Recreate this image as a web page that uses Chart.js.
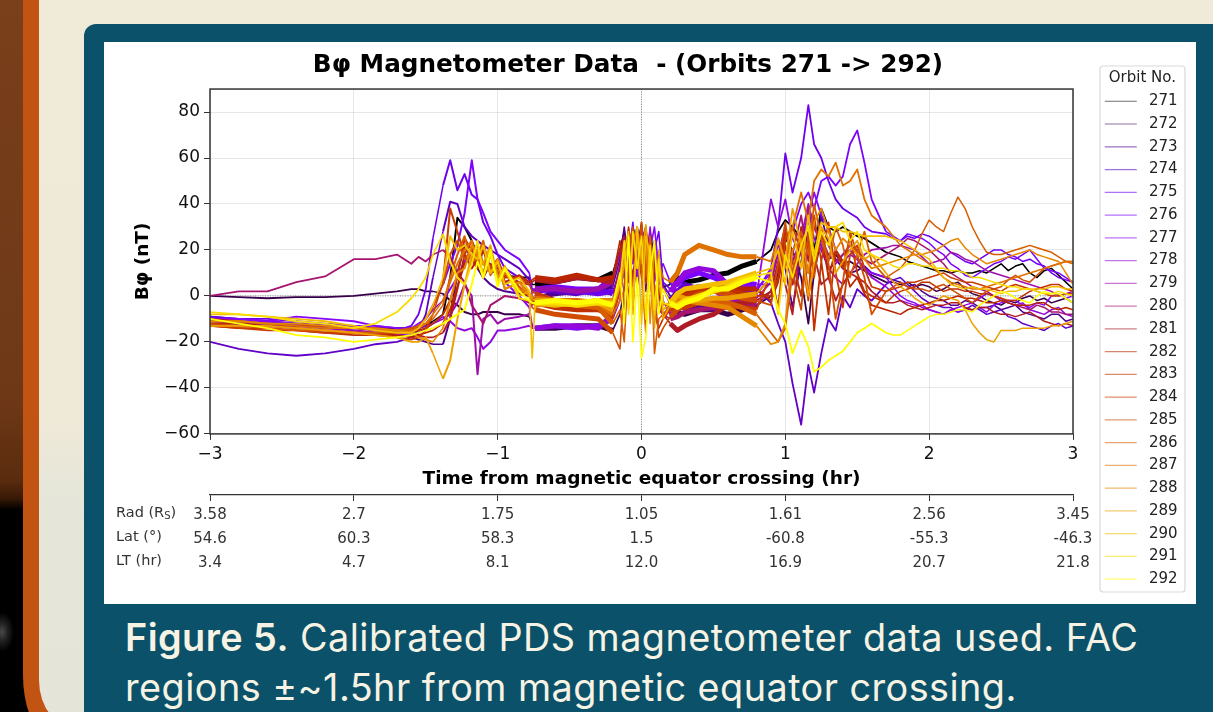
<!DOCTYPE html>
<html>
<head>
<meta charset="utf-8">
<title>Magnetometer Data</title>
<script src="https://cdn.jsdelivr.net/npm/chart.js@4"></script>
<style>
  html, body { margin: 0; padding: 0; width: 1213px; height: 712px; overflow: hidden; background: #000; }
  .photo { position: absolute; left: 0; top: 0; width: 30px; height: 712px;
    background: radial-gradient(ellipse 12px 20px at 2px 632px, #4a4a4a 0%, rgba(60,60,60,0.5) 50%, rgba(0,0,0,0) 100%),
      linear-gradient(#7a3f1b 0, #6e3817 400px, #5a2c0e 480px, #3a1a06 498px, #000 510px, #000 712px); }
  .edge { position: absolute; left: 23px; top: -60px; width: 1250px; height: 790px; background: #c25413; border-bottom-left-radius: 22px 55px; }
  .panel { position: absolute; left: 39px; top: -60px; width: 1250px; height: 790px; border-bottom-left-radius: 40px 50px;
    background: linear-gradient(#f0ead9 0, #efe9d8 480px, #e5e6d9 560px, #e4e5d8 850px); }
  .slide { position: absolute; left: 84px; top: 24px; width: 1129px; height: 688px; background: #0a5169; border-top-left-radius: 12px; }
  #plot { position: absolute; left: 104px; top: 42px; background: #fff; }
  .row { position: absolute; left: 116px; font: 14.5px "DejaVu Sans", sans-serif; color: #333; line-height: 18px; white-space: nowrap; }
  .row sub { font-size: 10px; line-height: 0; vertical-align: -2px; }
  .caption { position: absolute; left: 125px; top: 612px; font: 37.8px Inter, sans-serif; letter-spacing: 0.45px; line-height: 50px; color: #f6f3e4; white-space: nowrap; }
  .caption b { font-weight: 600; }
</style>
</head>
<body>
<div class="photo"></div>
<div class="edge"></div>
<div class="panel"></div>
<div class="slide"></div>
<canvas id="plot" width="1092" height="562"></canvas>
<div class="row" style="top:503px">Rad (R<sub>S</sub>)</div>
<div class="row" style="top:527px">Lat (°)</div>
<div class="row" style="top:551px">LT (hr)</div>
<div class="caption"><b>Figure 5.</b> Calibrated PDS magnetometer data used. FAC<br>regions ±~1.5hr from magnetic equator crossing.</div>

<script>
// hours from equator crossing, shared by all orbits (finer where the traces are busy)
const timeHr = [
  -3, -2.8, -2.6, -2.4, -2.2, -2, -1.85, -1.7,
  -1.6, -1.55, -1.5, -1.45, -1.38, -1.33, -1.28, -1.23, -1.18, -1.14, -1.1, -1.05, -1, -0.95, -0.85, -0.78,
  -0.76, -0.74, -0.6, -0.45, -0.3, -0.2, -0.15, -0.12, -0.09, -0.06, -0.03, 0, 0.03, 0.06, 0.09, 0.12, 0.15, 0.2, 0.25, 0.3, 0.4, 0.5, 0.6, 0.7, 0.8,
  0.9, 0.95, 1, 1.05, 1.11, 1.16, 1.2, 1.25, 1.3, 1.35, 1.4, 1.45, 1.5, 1.55, 1.6, 1.7,
  1.75, 1.8, 1.85, 1.9, 1.95, 2, 2.05, 2.1, 2.15, 2.2, 2.25, 2.3, 2.35, 2.4, 2.45, 2.5, 2.55, 2.6, 2.65, 2.7, 2.75, 2.8, 2.85, 2.9, 2.95, 3
];

const orbit271 = [
  -11, -11, -12, -12, -13, -13, -14, -14,
  -14, -14, -13, -11, -8, 8, 34, 30, 24, 18, 14, 11, 10, 9, 8, 8,
  5, 5, 6, 8, 7, 10, 20, 28, 18, 30, 22, 31, 14, 28, 16, 8, 4, 5, 8, 6, 7, 9, 10, 13, 15,
  20, 28, 33, 30, 25, 34, 20, 38, 30, 28, 30, 28, 26, 25, 23, 19,
  18, 17, 15, 14, 13, 12, 11, 11, 10, 11, 10, 10, 11, 10, 12, 14, 11, 13, 14, 10, 8, 11, 12, 9, 6, 3
];
const orbit272 = [
  0, -0.5, -1, -0.5, -0.5, 0, 1, 2,
  3, 3, 2, 2, 1, -2, -4, -7, -8, -8, -7, -7, -7, -8, -8, -9,
  -13, -14, -14, -13, -13, -15, -8, 4, 18, 8, 20, 10, 24, 6, 15, 2, -3, -5, -7, -8, -6, -6, -8, -6, -4,
  0, 10, 25, 20, 8, -12, 10, 25, 16, 18, 14, 15, 13, 11, 9, 6,
  6, 5, 6, 4, 5, 4, 2, 3, 5, 6, 3, 1, 0, -2, -3, -4, -2, -3, -1, 0, -2, -1, -3, -2, -1, -3
];
const orbit273 = [
  -9, -10, -11, -12, -13, -14, -15, -16,
  -18, -19, -20, -21, -21, -10, 10, 22, 16, 12, 8, 5, 3, 2, 1, 0,
  -1, -1, 1, 2, 3, 4, 16, 30, 14, 26, 12, 28, 10, 22, 8, 16, 5, 0, -4, -5, -5, -6, -3, -1, 1,
  8, 20, 12, -5, 15, 28, 10, 35, 22, 16, 12, 10, 11, 13, 10, 8,
  7, 6, 4, 5, 2, 0, -1, -2, -4, -4, -2, -3, -5, -5, -4, -6, -5, -4, -7, -8, -9, -10, -8, -8, -11, -10
];
const orbit274 = [
  -20, -23, -25, -26, -25, -23, -21, -20,
  -18, -15, -8, 8, 28, 41, 40, 30, 26, 24, 22, 20, 18, 16, 12, 7,
  2, 3, 2, 1, 3, 1, 12, 20, 8, 22, 4, 18, 2, 16, 24, 6, 3, -2, 2, 5, 3, 4, 5, 2, 3,
  -3, -12, -20, -38, -56, -30, -42, -25, -10, -15, 0, -5, 3, 0, -2, 5,
  7, 8, 5, 2, -1, -3, -4, -5, -5, -7, -6, -4, -6, -8, -7, -6, -9, -10, -12, -13, -14, -15, -13, -12, -14, -13
];
const orbit275 = [
  -9, -10, -10, -11, -12, -13, -14, -15,
  -13, -8, 3, 25, 48, 59, 46, 53, 44, 42, 32, 26, 18, 12, 8, 5,
  3, 2, 3, 2, 1, 2, 10, 26, 16, 32, 8, 24, 30, 10, 20, 28, 6, 3, 2, 3, 4, 3, 2, 1, 2,
  12, 30, 62, 45, 60, 83, 66, 60, 50, 42, 38, 36, 34, 30, 28, 27,
  25, 24, 26, 25, 27, 26, 24, 22, 19, 17, 15, 14, 16, 18, 20, 20, 18, 17, 15, 16, 14, 13, 10, 8, 7, 6
];
const orbit276 = [
  -10, -10, -11, -12, -13, -13, -13, -14,
  -15, -14, -10, -4, 5, 14, 22, 36, 59, 42, 36, 28, 24, 20, 16, 10,
  3, 3, 4, 3, 3, 8, 18, 8, 28, 14, 30, 20, 26, 12, 18, 10, 14, 6, 5, 8, 10, 8, 5, 6, 5,
  5, 20, 15, 28, 40, 45, 38, 50, 52, 48, 52, 66, 72, 58, 42, 28,
  26, 24, 27, 26, 25, 23, 20, 18, 14, 12, 9, 8, 10, 12, 14, 15, 17, 16, 18, 20, 16, 12, 11, 10, 8, 6
];
const orbit277 = [
  -10, -10, -11, -9, -10, -11, -13, -14,
  -14, -12, -10, -6, -2, 3, 8, 15, 18, 20, 14, 12, 10, 6, 0, -5,
  -13, -14, -13, -14, -13, -10, -2, 14, 24, 6, 18, 26, 8, 20, 30, 12, -2, -8, -6, -3, 1, 4, 3, 4, 3,
  10, 22, 18, 5, 20, 35, 45, 35, 30, 20, 15, 18, 16, 12, 10, 8,
  4, 0, -2, -3, -5, -6, -7, -8, -6, -7, -6, -6, -5, -7, -4, -3, -2, -2, -4, -5, -3, -4, 0, 1, -1, 0
];
const orbit278 = [
  -11, -12, -12, -13, -14, -15, -16, -17,
  -17, -16, -14, -12, -9, -11, -14, -15, -14, -18, -23, -20, -15, -15, -14, -13,
  -14, -14, -13, -13, -14, -8, 5, -6, 15, 22, 8, 25, 12, 30, 6, 18, 2, 2, 6, 10, 12, 11, 5, 1, 0,
  42, 30, 42, 25, 18, 38, 25, 20, 12, 14, 18, 20, 16, 12, 8, 4,
  1, -2, -3, -4, -4, -6, -7, -8, -6, -5, -4, -3, -1, 1, 0, -2, -3, -4, -3, -6, -7, -8, -6, -5, -8, -9
];
const orbit279 = [
  -12, -12, -13, -13, -14, -15, -16, -15,
  -15, -14, -13, -12, -10, -8, -3, 5, 0, -34, -10, -8, -12, -10, -9, -8,
  2, 3, 3, 2, 3, 6, 20, 10, 25, 15, 28, 12, 26, 8, 20, -2, 4, -4, -3, 1, 2, 3, -2, -3, -1,
  6, 18, 30, 15, 25, 40, 30, 22, 12, 8, 5, 10, 14, 18, 20, 21,
  22, 22, 21, 20, 17, 14, 15, 16, 19, 18, 16, 15, 13, 11, 10, 9, 8, 7, 6, 5, 4, 3, 2, 0, 1, 2
];
const orbit280 = [
  0, 2, 2, 6, 8.5, 16, 16, 18,
  14, 17, 15, 18, 20, 17, 10, 6, -4, -8, -12, -4, -2, 0, -1, -3,
  -4, -3, -3, -4, -3, -2, 14, 24, 6, 20, 28, 10, 22, 14, 5, -6, -8, -10, -9, -7, -6, -5, -5, -4, -4,
  2, 12, 28, 18, 35, 15, 30, 25, 18, 15, 18, 22, 20, 16, 14, 18,
  20, 22, 25, 24, 22, 20, 17, 14, 10, 8, 6, 4, 3, 2, 0, -1, -3, -4, -5, -6, -4, -5, -7, -7, -8, -8
];
const orbit281 = [
  -10, -11, -12, -13, -13, -14, -14, -15,
  -16, -17, -18, -18, -16, -10, 3, 18, 12, 16, 8, 14, 12, 9, 6, 5,
  6, 7, 6, 8, 7, 6, 20, 26, 18, 8, 24, 28, 14, 26, 12, 2, -8, -12, -15, -13, -10, -8, -4, -3, -2,
  2, 15, 5, -8, 25, 10, 18, 5, 8, -2, 5, 10, 8, 6, 2, -3,
  -3, -2, -4, -5, -6, -5, -4, -4, -3, -3, -5, -6, -5, -5, -7, -8, -8, -9, -8, -7, -9, -11, -12, -13, -12, -13
];
const orbit282 = [
  -12, -12, -13, -14, -15, -16, -17, -17,
  -18, -17, -16, -15, -12, -6, 4, 14, 18, 12, 20, 10, 16, 6, 9, 6,
  7, 8, 7, 9, 7, 8, 24, 12, 30, 16, 26, 8, 28, 10, 18, -4, -6, -3, 1, 2, 3, 3, 4, 3, 3,
  -2, 6, 22, 5, 30, 0, 14, 28, 8, 20, 15, 4, 8, 1, -4, -6,
  -7, -8, -6, -5, -4, -3, -2, -2, -1, 0, -1, -1, -2, -3, -3, -2, -3, -4, -4, -4, -3, -3, -5, -6, -5, -6
];
const orbit283 = [
  -13, -14, -14, -15, -16, -17, -17, -16,
  -16, -15, -14, -12, -8, -2, 8, 25, 20, 15, 10, 18, 8, 12, 2, 0,
  -2, -3, -5, -6, -6, -8, 4, 20, -2, 26, 12, 32, 6, 20, -8, -14, -10, -6, -2, 0, 2, 4, 3, 1, 0,
  0, 8, 28, 15, 0, 25, -15, 15, -8, 20, 12, 26, 10, 2, 0, -3,
  0, 2, 3, 4, 6, 6, 4, 2, 3, 3, 2, 2, 1, 1, 0, -1, -2, -2, 0, 2, 3, 4, 5, 5, 3, 2
];
const orbit284 = [
  -13, -14, -15, -15, -16, -16, -17, -18,
  -19, -18, -15, -8, 6, 38, 28, 18, 24, 16, 22, 12, 16, 8, 8, 5,
  2, 1, -2, -3, -4, -10, 2, 18, 26, 4, 28, 14, 30, 12, 20, -4, -8, -6, -5, -5, -3, -2, -4, -5, -6,
  10, -5, 25, 30, 20, -2, 35, 15, 32, 10, -5, 18, 22, 12, 4, 2,
  3, 4, 6, 6, 7, 8, 9, 10, 8, 7, 6, 6, 5, 4, 3, 2, 4, 5, 4, 3, 2, 1, 0, 0, 1, 1
];
const orbit285 = [
  -12, -13, -13, -14, -15, -16, -16, -16,
  -15, -13, -10, -5, 5, 18, 24, 16, 20, 22, 14, 18, 10, 12, 4, 0,
  -5, -6, -8, -9, -10, -16, -23, 5, 20, 30, 12, 32, 8, 26, 2, -18, -14, -9, -6, -2, 1, 2, 1, -1, -2,
  -4, 14, 32, 10, -6, 28, 8, 30, 14, -10, 6, 28, 18, 8, -8, 2,
  4, 6, 4, 3, 3, 2, 4, 5, 3, 1, -1, -3, 0, 2, 3, 4, 7, 9, 7, 6, 9, 12, 13, 14, 15, 15
];
const orbit286 = [
  -13, -13, -14, -15, -15, -16, -16, -15,
  -14, -13, -12, -10, -4, 8, 18, 26, 14, 18, 24, 9, 14, 3, 6, 1,
  -2, -2, -3, -4, -5, -12, -6, -20, 14, 22, 30, 10, -16, 26, -25, -10, -8, -4, -2, -3, -1, -2, -3, -5, -8,
  -16, -20, -14, 10, 28, 18, 40, 25, 15, 30, 22, 8, 18, 28, 15, 8,
  10, 12, 16, 20, 27, 33, 30, 28, 36, 43, 38, 30, 24, 19, 18, 18, 19, 20, 21, 22, 21, 20, 19, 17, 15, 14
];
const orbit287 = [
  -11, -11, -12, -13, -14, -14, -15, -15,
  -15, -14, -12, -8, -2, 6, 14, 20, 24, 16, 10, 20, 5, 10, 3, 1,
  0, -1, -2, -2, -3, -8, -2, 14, 24, -5, 26, 18, 28, 6, -10, 14, 8, 6, 10, 18, 22, 20, 18, 17, 17,
  15, 25, 12, 30, 45, 32, 50, 55, 52, 58, 48, 50, 55, 42, 35, 30,
  26, 22, 20, 18, 16, 14, 11, 8, 6, 5, 4, 3, 3, 4, 5, 6, 7, 8, 9, 10, 11, 12, 13, 14, 15, 15
];
const orbit288 = [
  -11, -11, -12, -12, -13, -14, -14, -15,
  -16, -18, -19, -20, -14, -2, 10, 12, 22, 18, 14, 10, 16, 3, 6, 0,
  -3, -4, -3, -3, -2, -2, 8, 18, -6, 24, 30, 14, 24, -12, 22, 4, -4, -3, -3, -2, -3, -4, -5, -9, -13,
  -21, -20, -12, 20, 25, 10, 32, 38, 28, 20, 25, 22, 18, 16, 12, 14,
  15, 16, 17, 18, 18, 19, 20, 22, 24, 25, 21, 18, 16, 14, 15, 16, 17, 18, 19, 20, 18, 17, 16, 15, 10, 5
];
const orbit289 = [
  -13, -13, -13, -14, -15, -16, -17, -18,
  -20, -20, -18, -25, -36, -28, -10, 5, 18, 20, 14, 22, 8, 13, 0, 2,
  -1, -2, -2, -3, -3, -6, 4, 14, 24, -8, 28, 16, 31, 10, -14, 20, -10, -4, 0, -1, -2, -1, -1, 0, 1,
  8, 25, 15, 38, 22, 0, 14, 30, 25, 10, 15, 20, 24, 16, 18, 10,
  6, 4, 2, -1, -3, -4, -2, 0, -1, -2, -6, -12, -16, -19, -20, -15, -15, -15, -14, -14, -14, -14, -13, -13, -12, -11
];
const orbit290 = [
  -8, -8, -9, -10, -11, -13, -15, -16,
  -16, -14, -10, -4, 8, 26, 20, 22, 18, 16, 22, 10, 15, 5, 8, 2,
  -27, -3, -4, -3, -3, -3, 6, 20, 28, -4, 30, -12, 26, 18, -8, 12, -6, -3, 1, 3, 4, 5, 6, 8, 10,
  12, 20, 5, 28, 12, 35, 18, 32, 30, 30, 28, 28, 27, 26, 26, 26,
  25, 24, 22, 20, 18, 16, 12, 8, 5, 4, 3, 4, 3, 3, 2, 1, 2, 2, 3, 3, 3, 3, 4, 4, 3, 3
];
const orbit291 = [
  -7, -8, -9, -11, -12, -14, -12, -7,
  -1, 3, 8, 18, 27, 15, 8, 5, 14, 24, 8, 18, 6, 12, -1, -2,
  -3, -3, -3, -4, -3, -4, 6, 24, -8, 28, 12, 26, -10, 22, -6, 16, -3, -4, -4, -2, 0, 2, 4, 7, 9,
  10, -8, 18, 8, 22, 30, 15, 28, 22, 30, 32, 24, 28, 20, 18, 15,
  13, 12, 14, 14, 13, 13, 12, 12, 11, 11, 10, 8, 8, 7, 6, 5, 4, 4, 3, 3, 2, 1, 1, 2, 1, 0
];
const orbit292 = [
  -10, -12, -14, -17, -18, -20, -19, -18,
  -17, -16, -15, -14, -12, -10, -8, -6, 5, 15, 8, 20, 4, 12, 2, -2,
  -3, -3, -2, -3, -2, -4, 10, -12, 26, -20, 8, -27, -18, 10, 24, -8, 3, -3, -5, -3, -1, 3, 3, 6, 8,
  6, -6, -12, -25, -15, -22, -33, -31, -28, -26, -24, -20, -16, -14, -12, -16,
  -17, -17, -15, -13, -11, -9, -8, -8, -7, -6, -6, -7, -4, -2, 0, 2, 1, -1, -2, -3, 0, 2, 1, 1, -1, -3
];

const orbitNumbers = ['271', '272', '273', '274', '275', '276', '277', '278', '279', '280', '281',
  '282', '283', '284', '285', '286', '287', '288', '289', '290', '291', '292'];
const orbitValues = [orbit271, orbit272, orbit273, orbit274, orbit275, orbit276, orbit277, orbit278,
  orbit279, orbit280, orbit281, orbit282, orbit283, orbit284, orbit285, orbit286, orbit287, orbit288,
  orbit289, orbit290, orbit291, orbit292];
const orbitColors = ['#000000', '#38004c', '#4f0090', '#6001c7', '#6f02ed', '#7c03fe', '#8806f9', '#9309dd',
  '#9d0ead', '#a7146f', '#b01c26', '#b92500', '#c13000', '#c93c00', '#d04c00', '#d75d00', '#df7100', '#e68700',
  '#eca100', '#f3bd00', '#f9dc00', '#ffff00'];

// trajectory table under the plot, one entry per whole hour
const radLabels = ['3.58', '2.7', '1.75', '1.05', '1.61', '2.56', '3.45'];
const latLabels = ['54.6', '60.3', '58.3', '1.5', '-60.8', '-55.3', '-46.3'];
const ltLabels = ['3.4', '4.7', '8.1', '12.0', '16.9', '20.7', '21.8'];

const fontName = '"DejaVu Sans", sans-serif';
const minusSign = v => String(v).replace('-', '\u2212');

// fast orbits smear into fat bands near the equator, so widen those stretches
function traceWidth(ctx) {
    const a = ctx.p0.parsed.x, b = ctx.p1.parsed.x;
    if (a >= -0.74 && b <= -0.2) return 5;
    if (a >= 0.2 && b <= 0.8) return 5;
    if (a >= -0.78 && b <= 0.2) return 1.6;
    if (a >= -1.4 && b <= -0.78) return 2;
    if (a >= 0.8 && b <= 1.7) return 1.8;
    if (b <= -1.4) return 1.8;
    return 1.5;
}

const datasets = orbitNumbers.map((orbit, i) => ({
    label: orbit,
    data: timeHr.map((t, j) => ({ x: t, y: orbitValues[i][j] })),
    borderColor: orbitColors[i],
    borderWidth: 1.5,
    borderJoinStyle: 'round',
    pointRadius: 0,
    tension: 0,
    order: orbitNumbers.length - i,
    segment: { borderWidth: traceWidth }
}));

const framePlugin = {
    id: 'frame',
    afterLayout(chart) {
        // legend box and title sit where the figure has them, not where the layout would
        const lg = chart.legend;
        lg.update(91, 560, { left: 0, top: 0, right: 0, bottom: 0 });
        lg.left = 993;
        lg.top = 27;
        lg.right = 1084;
        lg.bottom = lg.top + lg.height;
        chart.titleBlock.left = 0;
        chart.titleBlock.right = 1048;
    },
    beforeDraw(chart) {
        const ctx = chart.ctx;
        ctx.save();
        ctx.strokeStyle = '#d9d9d9';
        ctx.lineWidth = 1.2;
        ctx.beginPath();
        ctx.roundRect(996, 24, 85, 526, 3);
        ctx.stroke();
        ctx.restore();
    },
    beforeDatasetsDraw(chart) {
        const { ctx, chartArea: a, scales } = chart;
        const x0 = scales.x.getPixelForValue(0), y0 = scales.y.getPixelForValue(0);
        ctx.save();
        ctx.strokeStyle = '#8a8a8a';
        ctx.lineWidth = 1;
        ctx.setLineDash([1, 1.5]);
        ctx.beginPath();
        ctx.moveTo(x0, a.top);
        ctx.lineTo(x0, a.bottom);
        ctx.moveTo(a.left, y0);
        ctx.lineTo(a.right, y0);
        ctx.stroke();
        ctx.restore();
    },
    afterDatasetsDraw(chart) {
        const { ctx, chartArea: a } = chart;
        ctx.save();
        ctx.strokeStyle = '#333';
        ctx.lineWidth = 1.5;
        ctx.strokeRect(a.left, a.top, a.right - a.left, a.bottom - a.top);
        ctx.restore();
    }
};

new Chart(document.getElementById('plot'), {
    type: 'line',
    data: { datasets: datasets },
    plugins: [framePlugin],
    options: {
        responsive: false,
        animation: false,
        layout: { padding: { left: 0, right: 123, top: 0, bottom: 27 } },
        plugins: {
            title: {
                display: true,
                text: 'B\u03c6 Magnetometer Data  - (Orbits 271 -> 292)',
                color: '#000',
                font: { family: fontName, size: 24.7, weight: 'bold' },
                padding: { top: 9, bottom: 8.4 }
            },
            tooltip: { enabled: false },
            legend: {
                position: 'chartArea',
                align: 'start',
                title: {
                    display: true,
                    text: 'Orbit No.',
                    color: '#222',
                    font: { family: fontName, size: 15 },
                    padding: { top: 2, bottom: -3 }
                },
                labels: {
                    usePointStyle: true,
                    pointStyleWidth: 32,
                    padding: 7.76,
                    color: '#222',
                    font: { family: fontName, size: 15 },
                    generateLabels: chart => chart.data.datasets.map((d, i) => ({
                        text: ' ' + d.label,
                        strokeStyle: d.borderColor + '90',
                        fillStyle: d.borderColor,
                        lineWidth: 1.2,
                        pointStyle: 'line',
                        datasetIndex: i
                    }))
                }
            }
        },
        scales: {
            x: {
                type: 'linear',
                position: 'bottom',
                weight: 0,
                min: -3,
                max: 3,
                border: { display: false },
                grid: { color: 'rgba(176,176,176,0.3)', tickColor: '#333', tickLength: 6 },
                ticks: {
                    stepSize: 1,
                    padding: 4,
                    color: '#111',
                    maxRotation: 0,
                    font: { family: fontName, size: 17 },
                    callback: minusSign
                },
                title: {
                    display: true,
                    text: 'Time from magnetic equator crossing (hr)',
                    color: '#000',
                    font: { family: fontName, size: 18.5, weight: 'bold' },
                    padding: { top: 0, bottom: 4.5 }
                }
            },
            x2: {
                type: 'linear',
                position: 'bottom',
                weight: 1,
                min: -3,
                max: 3,
                border: { display: true, color: '#333', width: 1.3 },
                grid: { drawOnChartArea: false, color: '#333', tickLength: 6 },
                ticks: {
                    stepSize: 1,
                    padding: 2,
                    color: '#333',
                    maxRotation: 0,
                    font: { family: fontName, size: 15, lineHeight: 1.6 },
                    callback: v => [radLabels[v + 3], latLabels[v + 3], ltLabels[v + 3]]
                }
            },
            y: {
                min: -60,
                max: 90,
                border: { display: false },
                grid: { color: 'rgba(176,176,176,0.3)', tickColor: '#333', tickLength: 6 },
                afterFit(scale) { scale.width = 106; },
                ticks: {
                    stepSize: 20,
                    padding: 4,
                    includeBounds: false,
                    color: '#111',
                    font: { family: fontName, size: 17 },
                    callback: minusSign
                },
                title: {
                    display: true,
                    text: 'B\u03c6 (nT)',
                    color: '#000',
                    font: { family: fontName, size: 18.5, weight: 'bold' },
                    padding: { top: 28, bottom: 0 }
                }
            }
        }
    }
});
</script>
</body>
</html>
